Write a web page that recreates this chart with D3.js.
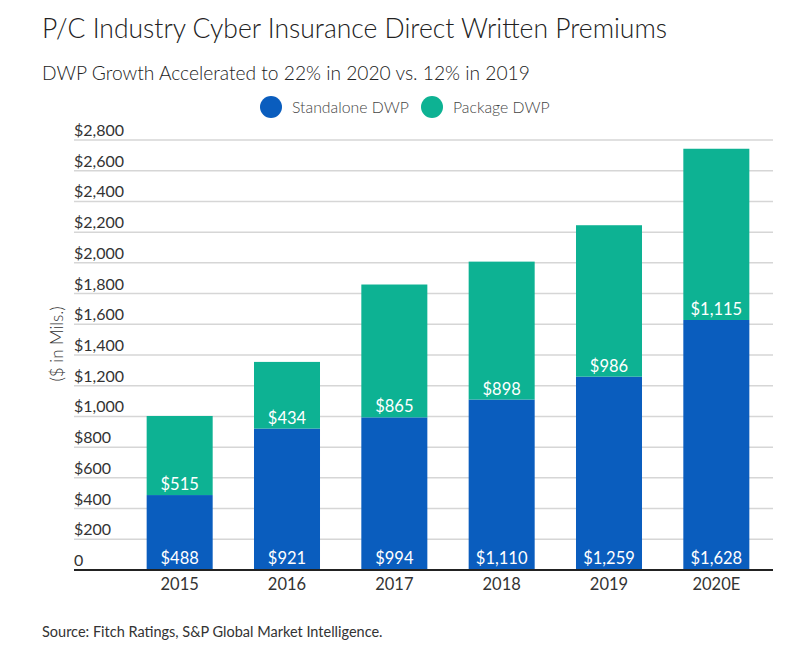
<!DOCTYPE html>
<html>
<head>
<meta charset="utf-8">
<script src="https://cdn.jsdelivr.net/npm/d3@7"></script>
<style>
  body { margin: 0; background: #fff; }
  svg { display: block; font-family: Lato, "Open Sans", sans-serif; }
</style>
</head>
<body>
<svg id="chart" width="801" height="650"></svg>
<script>
const categories = ["2015", "2016", "2017", "2018", "2019", "2020E"];
const standalone = [488, 921, 994, 1110, 1259, 1628];
const pkg = [515, 434, 865, 898, 986, 1115];
const yTicks = [0, 200, 400, 600, 800, 1000, 1200, 1400, 1600, 1800, 2000, 2200, 2400, 2600, 2800];
const seriesNames = ["Standalone DWP", "Package DWP"];
const colors = ["#0A5DBE", "#0DB293"];

const svg = d3.select("#chart");
const gridLeft = 74, gridRight = 773;

const x = d3.scaleBand().domain(categories).range([126, 770]).paddingInner(0.385).paddingOuter(0.1925);
const y = d3.scaleLinear().domain([0, 2800]).range([570, 140]);

// Title & subtitle
svg.append("text").attr("x", 42).attr("y", 38).attr("font-size", 26.5).attr("fill", "#222")
  .attr("font-weight", 300).text("P/C Industry Cyber Insurance Direct Written Premiums");
svg.append("text").attr("x", 42).attr("y", 80).attr("font-size", 19.2).attr("fill", "#222")
  .attr("font-weight", 300).text("DWP Growth Accelerated to 22% in 2020 vs. 12% in 2019");

// Legend
const legendX = [271, 432];
seriesNames.forEach((n, i) => {
  svg.append("circle").attr("cx", legendX[i]).attr("cy", 107).attr("r", 11).attr("fill", colors[i]);
  svg.append("text").attr("x", legendX[i] + 21).attr("y", 113).attr("font-size", 15.8).attr("fill", "#444")
    .attr("font-weight", 300).text(n);
});

// Grid lines and tick labels
svg.append("g").selectAll("line").data(yTicks.filter(d => d > 0)).join("line")
  .attr("x1", gridLeft).attr("x2", gridRight)
  .attr("y1", d => y(d)).attr("y2", d => y(d))
  .attr("stroke", "#d6d6d6").attr("stroke-width", 1.5);

const fmt = d => d === 0 ? "0" : "$" + d3.format(",")(d);
svg.append("g").selectAll("text").data(yTicks).join("text")
  .attr("x", gridLeft).attr("y", d => y(d) - 4)
  .attr("font-size", 16).attr("fill", "#333").text(fmt);

// Y axis title
svg.append("text").attr("transform", "translate(63,344) rotate(-90)")
  .attr("text-anchor", "middle").attr("font-size", 17).attr("fill", "#333")
  .attr("font-weight", 300).text("($ in Mils.)");

// Stacked bars
const rows = categories.map((c, i) => ({ cat: c, standalone: standalone[i], package: pkg[i] }));
const stack = d3.stack().keys(["standalone", "package"])(rows);
svg.append("g").selectAll("g").data(stack).join("g")
  .attr("fill", (d, i) => colors[i])
  .selectAll("rect").data(d => d).join("rect")
  .attr("x", d => x(d.data.cat))
  .attr("width", x.bandwidth())
  .attr("y", d => y(d[1]))
  .attr("height", d => y(d[0]) - y(d[1]));

// Value labels
const vfmt = d => "$" + d3.format(",")(d);
svg.append("g").selectAll("text").data(rows).join("text")
  .attr("x", d => x(d.cat) + x.bandwidth() / 2).attr("y", y(0) - 6)
  .attr("text-anchor", "middle").attr("font-size", 16.5).attr("fill", "#fff")
  .text(d => vfmt(d.standalone));
svg.append("g").selectAll("text").data(rows).join("text")
  .attr("x", d => x(d.cat) + x.bandwidth() / 2).attr("y", d => y(d.standalone) - 5)
  .attr("text-anchor", "middle").attr("font-size", 16.5).attr("fill", "#fff")
  .text(d => vfmt(d.package));

// Baseline axis
svg.append("line").attr("x1", gridLeft).attr("x2", gridRight).attr("y1", y(0)).attr("y2", y(0))
  .attr("stroke", "#222").attr("stroke-width", 2);

// X axis labels
const xAxis = d3.axisBottom(x).tickSize(0).tickPadding(0);
const xg = svg.append("g").attr("transform", `translate(0,${y(0)})`).call(xAxis);
xg.select(".domain").remove();
xg.selectAll("text").attr("font-size", 16.5).attr("fill", "#333")
  .attr("font-family", "Lato, 'Open Sans', sans-serif").attr("dy", 0).attr("y", 20);

// Source
svg.append("text").attr("x", 42).attr("y", 637).attr("font-size", 14.5).attr("fill", "#333")
  .text("Source: Fitch Ratings, S&P Global Market Intelligence.");
</script>
</body>
</html>
